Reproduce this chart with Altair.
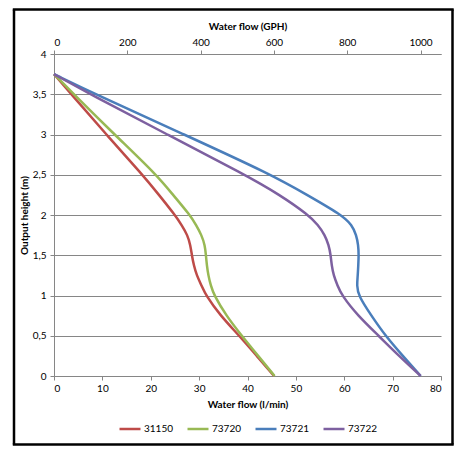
import altair as alt
import pandas as pd

# ---- data ----
heights = [3.75, 3.5, 3.0, 2.5, 2.25, 2.0, 1.875, 1.75, 1.625, 1.5, 1.375, 1.25, 1.125, 1.0, 0.75, 0.5, 0.25, 0.0]
flow_31150 = [0, 3.6, 10.8, 18.3, 21.7, 25.0, 26.4, 27.6, 28.2, 28.5, 28.9, 29.5, 30.5, 31.4, 34.4, 38.3, 41.9, 45.5]
flow_73720 = [0, 4.1, 12.5, 21.2, 24.6, 28.1, 29.4, 30.5, 31.2, 31.4, 31.6, 31.9, 32.4, 33.1, 35.6, 38.8, 42.2, 45.6]
flow_73721 = [0, 8.6, 26.9, 45.0, 52.3, 59.5, 61.6, 62.5, 62.9, 63.0, 62.9, 62.8, 62.6, 62.9, 65.6, 68.5, 72.1, 75.8]
flow_73722 = [0, 7.5, 23.4, 39.5, 46.7, 52.6, 54.6, 56.0, 56.8, 57.2, 57.4, 57.8, 58.6, 59.5, 62.8, 67.1, 71.3, 75.8]

series_names = ["31150", "73720", "73721", "73722"]
series_colors = ["#BE4B48", "#98B954", "#4A7EBB", "#7D60A0"]
y_ticks = [0, 0.5, 1, 1.5, 2, 2.5, 3, 3.5, 4]
x_ticks = [0, 10, 20, 30, 40, 50, 60, 70, 80]
gph_ticks = [0, 200, 400, 600, 800, 1000]
gph_max = 80 * 60 / 4.546  # imperial gallons per hour matching 80 l/min

rows = []
for name, flows in zip(series_names, [flow_31150, flow_73720, flow_73721, flow_73722]):
    for i, (h, f) in enumerate(zip(heights, flows)):
        rows.append({"series": name, "idx": i, "height": h, "flow": f})
df = pd.DataFrame(rows)

FONT = "Lato"
GRAY = "#868686"

lines = alt.Chart(df).mark_line(strokeWidth=2.5, interpolate="basis").encode(
    x=alt.X("flow:Q", scale=alt.Scale(domain=[0, 80], nice=False),
            axis=alt.Axis(title="Water flow (l/min)", values=x_ticks, grid=False,
                          orient="bottom", tickSize=4, labelPadding=3, titlePadding=6)),
    y=alt.Y("height:Q", scale=alt.Scale(domain=[0, 4], nice=False),
            axis=alt.Axis(title="Output height (m)", values=y_ticks, grid=True,
                          tickSize=4, labelPadding=4, titlePadding=3,
                          labelExpr="replace(toString(datum.value), '.', ',')")),
    color=alt.Color("series:N", scale=alt.Scale(domain=series_names, range=series_colors),
                    legend=alt.Legend(title=None, orient="none", legendX=64, legendY=363,
                                      direction="horizontal", symbolType="stroke",
                                      symbolSize=441, symbolStrokeWidth=2.5,
                                      labelFontSize=10, labelOffset=2, columnPadding=8)),
    order="idx:Q",
)

gph_df = pd.DataFrame({"gph": [0, gph_max]})
top_axis = alt.Chart(gph_df).mark_point(opacity=0).encode(
    x=alt.X("gph:Q", scale=alt.Scale(domain=[0, gph_max], nice=False),
            axis=alt.Axis(title="Water flow (GPH)", values=gph_ticks, format="d", orient="top",
                          grid=False, tickSize=4, labelPadding=3, titlePadding=6)),
    y=alt.value(0),
)

one = pd.DataFrame({"a": [0]})
L, T, R, B = -40, -44.5, 398.5, 390.5
frame_h = alt.Chart(one).mark_rule(color="black", strokeWidth=2.5).encode(
    x=alt.value(L - 1.2), x2=alt.value(R + 1.2), y=alt.value(T))
frame_b = alt.Chart(one).mark_rule(color="black", strokeWidth=2.5).encode(
    x=alt.value(L - 1.2), x2=alt.value(R + 1.2), y=alt.value(B))
frame_l = alt.Chart(one).mark_rule(color="black", strokeWidth=2.5).encode(
    x=alt.value(L), y=alt.value(T), y2=alt.value(B))
frame_r = alt.Chart(one).mark_rule(color="black", strokeWidth=2.5).encode(
    x=alt.value(R), y=alt.value(T), y2=alt.value(B))

chart = alt.layer(lines, top_axis, frame_h, frame_b, frame_l, frame_r).resolve_scale(
    x="independent"
).properties(
    width=387, height=322,
    autosize=alt.AutoSizeParams(type="none"),
    padding={"left": 46, "top": 46, "right": 13, "bottom": 70},
    background="white",
).configure_view(stroke=None).configure_axis(
    labelFont=FONT, titleFont=FONT, labelFontSize=10, titleFontSize=10,
    titleFontWeight="bold", labelColor="black", titleColor="black",
    domainColor=GRAY, tickColor=GRAY, gridColor=GRAY, gridOpacity=1,
    domainWidth=1, tickWidth=1,
).configure_legend(labelFont=FONT, labelColor="black")

chart.save("out.html", embed_options={"renderer": "svg", "actions": False})
